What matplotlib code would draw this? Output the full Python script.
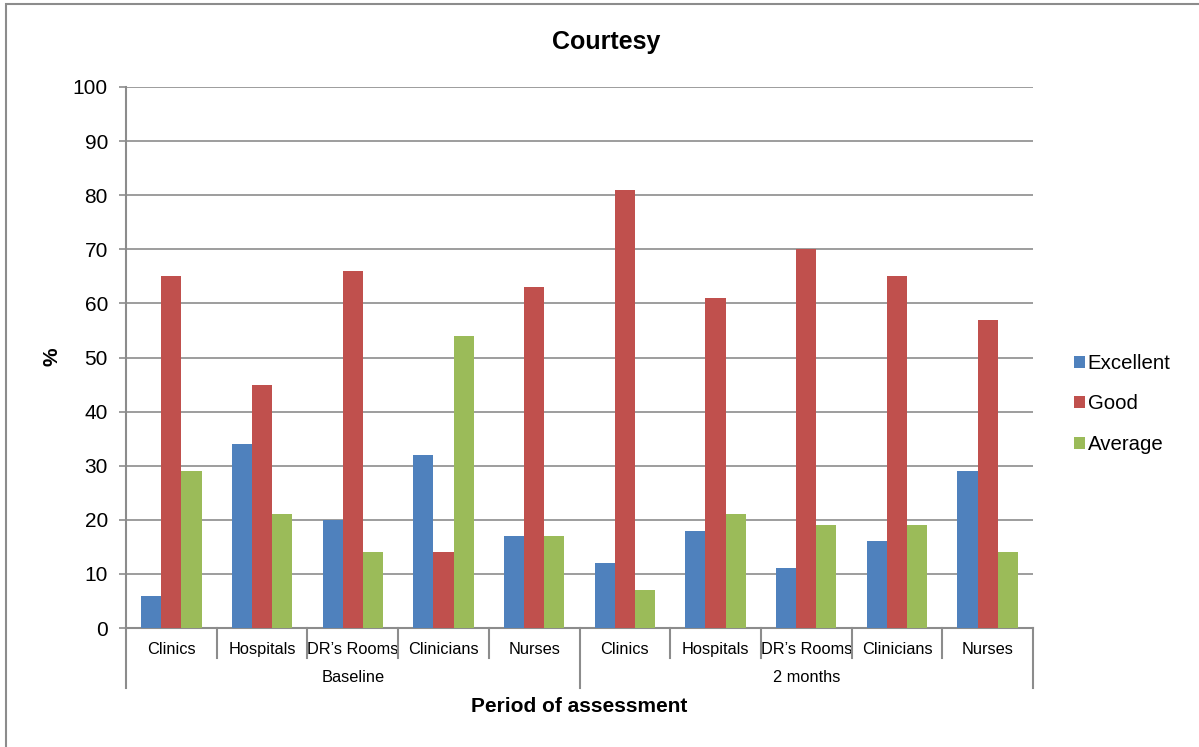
import matplotlib
matplotlib.use("Agg")
import matplotlib.pyplot as plt
from matplotlib.patches import Rectangle
import numpy as np

plt.rcParams['font.family'] = ['Liberation Sans', 'DejaVu Sans']

# Survey results (%) by unit, for each assessment period
periods = ["Baseline", "2 months"]
units = ["Clinics", "Hospitals", "DR\u2019s Rooms", "Clinicians", "Nurses"]
series_names = ["Excellent", "Good", "Average"]
excellent = [6, 34, 20, 32, 17, 12, 18, 11, 16, 29]
good = [65, 45, 66, 14, 63, 81, 61, 70, 65, 57]
average = [29, 21, 14, 54, 17, 7, 21, 19, 19, 14]
colors = ["#4F81BD", "#C0504D", "#9BBB59"]

grid_c = "#8C8C8C"

fig = plt.figure(figsize=(11.99, 7.47), dpi=100)
ax = fig.add_axes([126 / 1199, 1 - 628 / 747, (1033 - 126) / 1199, (628 - 87) / 747])

n = len(periods) * len(units)
x = np.arange(n)
w = 0.222
for i, (vals, name, c) in enumerate(zip([excellent, good, average], series_names, colors)):
    ax.bar(x + (i - 1) * w, vals, width=w, color=c, label=name, zorder=3)

ax.set_xlim(-0.5, n - 0.5)
ax.set_ylim(0, 100)
ax.set_yticks(range(0, 101, 10))
ax.yaxis.grid(True, color=grid_c, linewidth=1.2, zorder=0)
ax.tick_params(axis='y', labelsize=15, length=5, width=1.2, color=grid_c, pad=8)
for s in ["top", "right"]:
    ax.spines[s].set_visible(False)
for s in ["left", "bottom"]:
    ax.spines[s].set_color(grid_c)
    ax.spines[s].set_linewidth(1.5)

ax.set_xticks(x)
ax.set_xticklabels(units * len(periods), fontsize=11.8)
ax.tick_params(axis='x', length=0, pad=10)

# category separators and period brackets below the axis
xt = ax.get_xaxis_transform()
px = 1 / ((628 - 87))
for b in np.arange(n + 1) - 0.5:
    is_outer = (b == -0.5) or (b == n - 0.5) or (b == len(units) - 0.5)
    depth = 60 * px if is_outer else 30 * px
    ax.plot([b, b], [0, -depth], transform=xt, color=grid_c, lw=1.5, clip_on=False)

for k, p in enumerate(periods):
    cx = k * len(units) + (len(units) - 1) / 2
    ax.text(cx, -50 * px, p, transform=xt, ha='center', va='center', fontsize=11.8)

fig.text(579.5 / 1199, 1 - 706 / 747, "Period of assessment", ha='center', va='center',
         fontsize=15, fontweight='bold')
fig.text(52 / 1199, 1 - 357 / 747, "%", ha='center', va='center', rotation=90,
         fontsize=15, fontweight='bold')
fig.text(606 / 1199, 1 - 42 / 747, "Courtesy", ha='center', va='center',
         fontsize=18, fontweight='bold')

leg = fig.legend(loc='center left', bbox_to_anchor=(1074 / 1199, 1 - 404 / 747),
                 frameon=False, fontsize=14.7, handlelength=0.55, handleheight=0.55,
                 handletextpad=0.12, labelspacing=1.05, borderpad=0, borderaxespad=0)

# outer chart frame
fig.patches.append(Rectangle((6 / 1199, -0.1), 1.2, 1 - 4 / 747 + 0.1,
                             transform=fig.transFigure, fill=False,
                             edgecolor=grid_c, linewidth=1.5))

fig.savefig("out.png", dpi=100, facecolor="white")
